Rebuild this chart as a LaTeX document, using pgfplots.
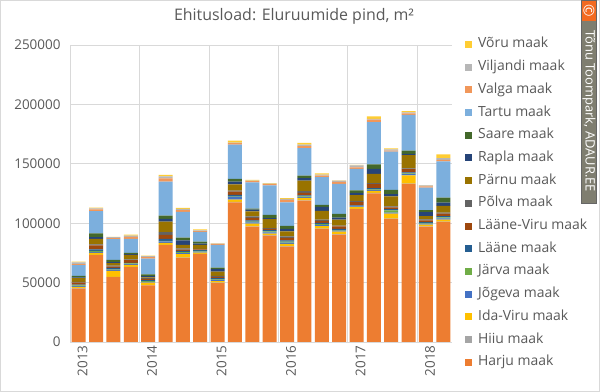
\documentclass[border=0pt]{standalone}
\usepackage{pgfplots}
\pgfplotsset{compat=1.18}
\usepackage{pgfplotstable}
\usepackage{fontspec}
\setmainfont{Open Sans}
\definecolor{cHarju}{HTML}{ED7D31}
\definecolor{cHiiu}{HTML}{A5A5A5}
\definecolor{cIda}{HTML}{FFC000}
\definecolor{cJog}{HTML}{4472C4}
\definecolor{cJar}{HTML}{70AD47}
\definecolor{cLaa}{HTML}{255E91}
\definecolor{cLV}{HTML}{9E480E}
\definecolor{cPol}{HTML}{636363}
\definecolor{cPar}{HTML}{997300}
\definecolor{cRap}{HTML}{264478}
\definecolor{cSaa}{HTML}{43682B}
\definecolor{cTar}{HTML}{7CAFDD}
\definecolor{cVal}{HTML}{F1975A}
\definecolor{cVil}{HTML}{B7B7B7}
\definecolor{cVor}{HTML}{FFCD33}
\definecolor{textgray}{HTML}{595959}
\definecolor{gridgray}{HTML}{D9D9D9}
\definecolor{wmgray}{HTML}{7F7E70}
\definecolor{wmorange}{HTML}{F26A21}

\pgfplotstableread{
q Harju Hiiu Ida Jog Jar Laa LV Pol Par Rap Saa Tar Val Vil Vor
0 45000 300 1200 500 700 700 1500 800 3000 700 1200 9200 800 1500 600
1 73100 300 1700 800 800 1200 3400 800 4800 1400 3100 18800 1400 800 800
2 54600 300 5000 1000 500 1000 1000 800 2200 800 2000 17400 800 800 300
3 63000 300 1700 600 500 600 2200 600 3900 500 1100 11800 1700 1100 800
4 47600 300 2000 800 600 800 1100 600 600 1100 1400 13200 1400 800 500
5 81500 300 1700 1100 500 1700 3400 2200 9000 2200 2800 28600 2800 1700 1100
6 70800 300 2800 1000 800 1000 1100 1100 2800 3900 2200 21800 1400 1100 800
7 73900 300 1100 800 500 700 600 500 3400 1000 1700 8100 800 600 800
8 49600 300 1400 1000 500 1000 1100 800 3600 2000 1400 19000 800 300 300
9 117600 300 2000 2000 500 1400 2800 800 5300 2200 2500 28800 1100 500 1700
10 97100 300 2200 1000 800 1000 2000 1400 4200 1400 800 22100 1100 500 500
11 89600 300 1400 1000 800 1000 1100 600 7600 800 2800 24800 1100 500 400
12 80300 300 2000 1000 800 1200 2000 1400 4200 2000 2500 19900 2000 800 800
13 119000 300 2000 700 500 1000 2000 1400 9000 2000 2200 23000 1700 1400 1400
14 95200 300 2000 1000 800 1000 1700 1100 7300 3400 1700 23200 1400 800 1100
15 90400 300 2200 800 500 1000 2200 600 5000 1700 3100 25200 1700 1100 300
16 111800 300 1400 600 300 500 2800 1100 4800 2000 2000 18200 1100 1700 500
17 125200 300 1700 800 500 1000 3400 800 7800 4200 3900 35500 2000 800 2000
18 103600 300 4200 800 2000 1000 1400 800 8400 2000 3600 32200 800 1100 800
19 133000 300 7000 1100 600 800 2800 600 11000 1100 2800 30000 1400 800 1100
20 97100 300 1400 800 600 800 1400 800 2800 3400 1700 18800 1100 800 300
21 101100 300 1700 1000 800 1000 2200 800 5600 2800 4200 30500 1400 1400 3100
}\data

\begin{document}
\begin{tikzpicture}
\fill[white] (0,0) rectangle (600bp,392bp);
\draw[gridgray, line width=0.75bp] (0.4bp,0.4bp) rectangle (599.6bp,391.6bp);
\path[use as bounding box] (0,0) rectangle (600bp,392bp);
\begin{axis}[
  at={(70bp,50bp)}, anchor=south west,
  width=382bp, height=297bp, scale only axis,
  ybar stacked, bar width=14bp,
  xmin=-0.5, xmax=21.5, ymin=0, ymax=250000,
  xtick={0,4,8,12,16,20},
  xticklabels={2013,2014,2015,2016,2017,2018},
  minor xtick={-0.5,3.5,7.5,11.5,15.5,19.5},
  ytick={0,50000,100000,150000,200000,250000},
  scaled y ticks=false,
  xminorgrids, ymajorgrids,
  grid style={draw=gridgray, line width=0.75bp},
  minor grid style={draw=gridgray, line width=0.75bp},
  axis line style={draw=none},
  major tick length=0pt, minor tick length=0pt,
  tick style={draw=none},
  every tick label/.append style={text=textgray, font=\fontsize{13.5}{15}\selectfont},
  yticklabel style={/pgf/number format/fixed, /pgf/number format/1000 sep={}, /pgf/number format/assume math mode=true, xshift=-6bp},
  xticklabel style={rotate=90, anchor=east, yshift=-4bp},
  reverse legend,
  legend image code/.code={\fill[#1,draw=none] (0bp,-3.5bp) rectangle (7bp,3.5bp);},
  legend style={at={(1.026,1.031)}, anchor=north west, draw=none, fill=none,
    font=\fontsize{14}{15}\selectfont, text=textgray,
    nodes={inner sep=0pt, text height=10bp, text depth=3bp, anchor=west},
    row sep=9.7bp, column sep=6bp},
  legend cell align=left,
]
\addplot[fill=cHarju, draw=none] table[x=q, y=Harju] {\data};
\addplot[fill=cHiiu, draw=none] table[x=q, y=Hiiu] {\data};
\addplot[fill=cIda, draw=none] table[x=q, y=Ida] {\data};
\addplot[fill=cJog, draw=none] table[x=q, y=Jog] {\data};
\addplot[fill=cJar, draw=none] table[x=q, y=Jar] {\data};
\addplot[fill=cLaa, draw=none] table[x=q, y=Laa] {\data};
\addplot[fill=cLV, draw=none] table[x=q, y=LV] {\data};
\addplot[fill=cPol, draw=none] table[x=q, y=Pol] {\data};
\addplot[fill=cPar, draw=none] table[x=q, y=Par] {\data};
\addplot[fill=cRap, draw=none] table[x=q, y=Rap] {\data};
\addplot[fill=cSaa, draw=none] table[x=q, y=Saa] {\data};
\addplot[fill=cTar, draw=none] table[x=q, y=Tar] {\data};
\addplot[fill=cVal, draw=none] table[x=q, y=Val] {\data};
\addplot[fill=cVil, draw=none] table[x=q, y=Vil] {\data};
\addplot[fill=cVor, draw=none] table[x=q, y=Vor] {\data};
\legend{Harju maak, Hiiu maak, Ida-Viru maak, Jõgeva maak, Järva maak, Lääne maak, Lääne-Viru maak, Põlva maak, Pärnu maak, Rapla maak, Saare maak, Tartu maak, Valga maak, Viljandi maak, Võru maak}
\end{axis}
\node[font=\fontsize{16}{18}\selectfont, text=textgray] at (294bp,376bp) {Ehitusload: Eluruumide pind, m²};
\fill[wmgray] (581.5bp,189bp) rectangle (596.5bp,371bp);
\fill[wmorange] (581.5bp,371bp) rectangle (596.5bp,391.5bp);
\draw[black!60, line width=0.6bp] (581.5bp,189bp) rectangle (596.5bp,391.5bp);
\node[rotate=-90, text=white, font=\fontsize{15}{15}\selectfont, inner sep=0pt] at (589bp,381bp) {©};
\node[rotate=-90, text=white, font=\fontsize{13}{13}\selectfont, inner sep=0pt] at (589bp,281bp) {Tõnu Toompark, ADAUR.EE};
\end{tikzpicture}
\end{document}
